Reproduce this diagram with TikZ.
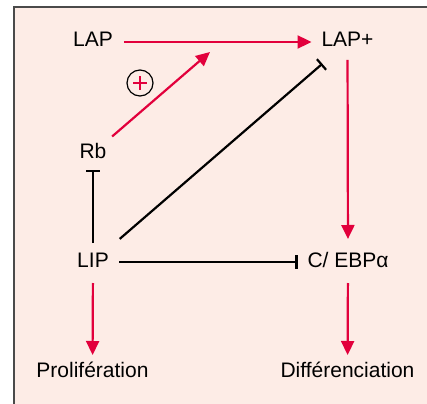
\documentclass[tikz,border=0pt]{standalone}
\usepackage{fontspec}
\setmainfont{Liberation Sans}
\usetikzlibrary{arrows.meta}
\definecolor{actred}{HTML}{E2003C}
\definecolor{panel}{HTML}{FDECE6}
\definecolor{framegray}{HTML}{4A4A4A}
\tikzset{
  label/.style={inner sep=0pt, outer sep=0pt, text height=15pt, text depth=5pt,
                font=\fontsize{21}{21}\selectfont},
  activate/.style={draw=actred, line width=2.2pt, -{Triangle[length=14pt,width=13pt]}, actred},
  inhibit/.style={draw=black, line width=2.2pt, -{Bar[width=14pt,line width=2.2pt]}},
}
\begin{document}
\begin{tikzpicture}[x=1pt,y=-1pt]
  \useasboundingbox (0,0) rectangle (427,403);
  \clip (0,0) rectangle (427,403);
  % panel
  \fill[white] (0,0) rectangle (427,403);
  \draw[fill=panel, draw=framegray, line width=2pt] (14,7) rectangle (450,430);

  % labels (centre = baseline - 5)
  \node[label] (lap)   at (93,42)    {LAP};
  \node[label] (lapp)  at (347.5,42) {LAP+};
  \node[label] (rb)    at (93,153)   {Rb};
  \node[label] (lip)   at (93,262)   {LIP};
  \node[label] (cebp)  at (348,262)  {C/ EBPα};
  \node[label] (prol)  at (92.5,372) {Prolifération};
  \node[label] (diff)  at (347.5,372){Différenciation};
  \coordinate (rbtip) at (210,52);

  % plus sign in a circle
  \node[draw=black, line width=1.2pt, circle, minimum size=26pt, inner sep=0pt] (plus) at (140,83) {};
  \draw[actred, line width=2pt] ([xshift=-7pt]plus.center) -- ([xshift=7pt]plus.center);
  \draw[actred, line width=2pt] ([yshift=-7pt]plus.center) -- ([yshift=7pt]plus.center);

  % connectors
  \draw[activate, shorten <=11pt, shorten >=10pt] (lap) -- (lapp);
  \draw[activate, shorten <=10pt] (rb) -- (rbtip);
  \draw[activate, shorten <=8pt, shorten >=13pt] (lapp) -- (cebp);
  \draw[inhibit, shorten <=20pt, shorten >=18pt] (lip) -- (lapp);
  \draw[inhibit, shorten <=9pt, shorten >=7pt] (lip) -- (rb);
  \draw[inhibit, shorten <=10.5pt, shorten >=10pt] (lip) -- (cebp);
  \draw[activate, shorten <=11pt, shorten >=7pt] (lip) -- (prol);
  \draw[activate, shorten <=11pt, shorten >=7pt] (cebp) -- (diff);
\end{tikzpicture}
\end{document}
